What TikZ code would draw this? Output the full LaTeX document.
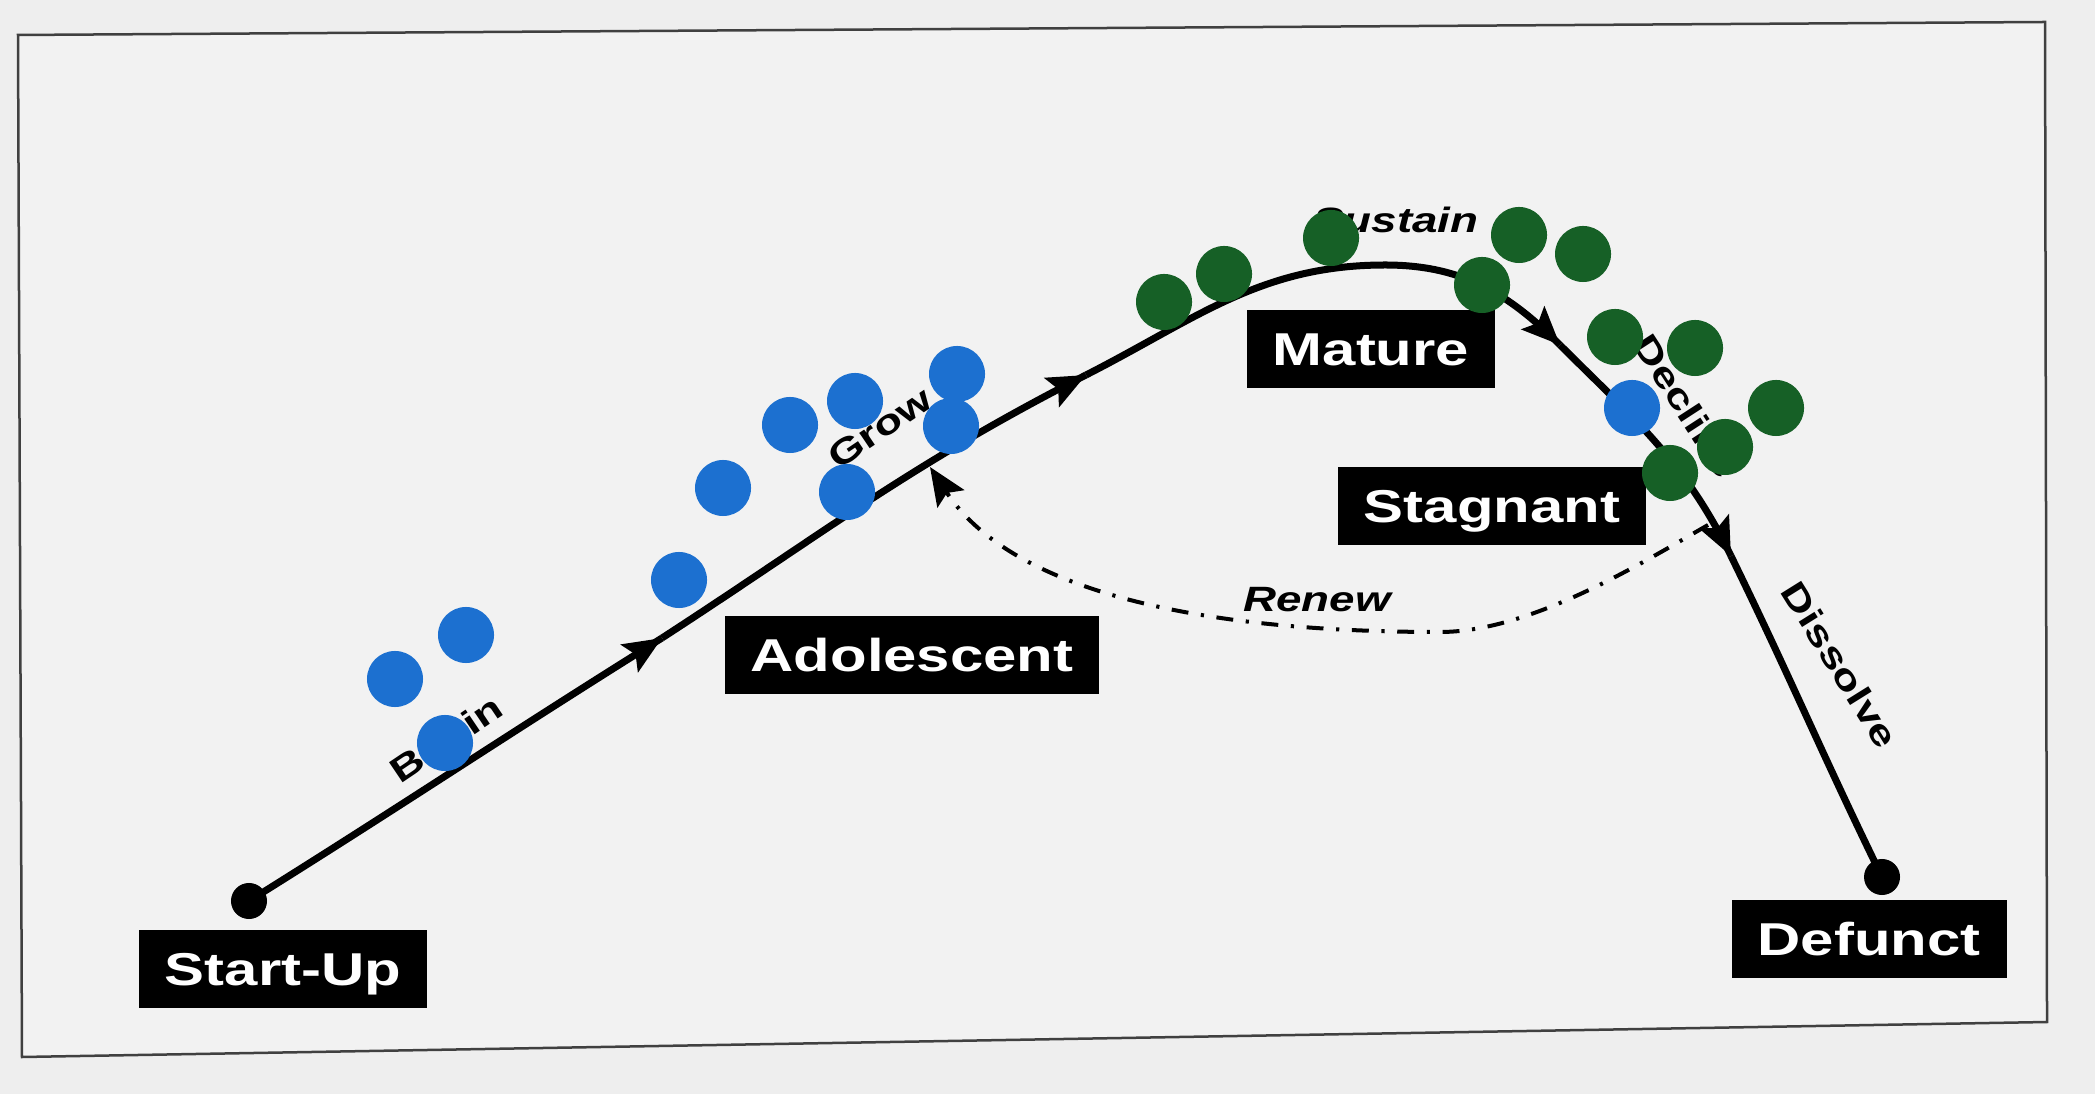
\documentclass[tikz,border=0pt]{standalone}
\usepackage{fontspec}
\newfontfamily\diagfont[FakeStretch=1.3]{Liberation Sans}
\usetikzlibrary{arrows.meta,decorations.markings}

\definecolor{dotblue}{RGB}{28,112,208}
\definecolor{dotgreen}{RGB}{22,96,38}
\definecolor{paper}{RGB}{238,238,238}
\definecolor{sheet}{RGB}{242,242,242}

\begin{document}
\begin{tikzpicture}[x=0.01cm, y=0.01cm,
  stage/.style={fill=black, text=white,
    font=\diagfont\bfseries\fontsize{13.1pt}{15pt}\selectfont,
    inner xsep=0.26cm, minimum height=0.78cm,
    text height=0.33cm, text depth=0cm},
  phase/.style={inner sep=0pt,
    font=\diagfont\bfseries\fontsize{10pt}{12pt}\selectfont},
  phaseit/.style={inner sep=0pt,
    font=\diagfont\bfseries\itshape\fontsize{10pt}{12pt}\selectfont},
  curve/.style={line width=0.07cm, black},
  headtip/.tip={Stealth[length=0.38cm, width=0.32cm, inset=0.07cm]},
  endarrow/.style={postaction={decorate, decoration={markings,
    mark=at position 0.9999 with {\arrow{headtip}}}}},
  renew/.style={line width=0.04cm, black,
    dash pattern=on 4.8pt off 3.6pt on 0.9pt off 3.6pt, -headtip},
  enddot/.style={circle, fill=black, minimum size=0.36cm, inner sep=0pt},
  bdot/.style={circle, fill=dotblue, minimum size=0.56cm, inner sep=0pt},
  gdot/.style={circle, fill=dotgreen, minimum size=0.56cm, inner sep=0pt}]

% paper and framed sheet
\fill[paper] (0,0) rectangle (2095,1094);
\useasboundingbox (0,0) rectangle (2095,1094);
\filldraw[fill=sheet, draw=black!75, line width=0.025cm]
  (18,1059) -- (2045,1072) -- (2047,72) -- (22,37) -- cycle;

% points along the life-cycle curve
\coordinate (S)  at (249,193);
\coordinate (A1) at (662,456);
\coordinate (A2) at (1086,719);
\coordinate (P)  at (1385,829);
\coordinate (A3) at (1560,749);
\coordinate (A4) at (1731,538);
\coordinate (E)  at (1882,217);
% renewal loop: leaves the decline, bottoms out, returns to growth
\coordinate (R0) at (1708,569);
\coordinate (RB) at (1440,462);
\coordinate (R1) at (930,627);

\draw[renew] (R0) .. controls (1640,530) and (1530,462) .. (RB)
             .. controls (1150,462) and (1000,520) .. (R1);

% main life-cycle curve with direction arrows
\draw[curve, endarrow] (S)  to[out=32, in=212] (A1);
\draw[curve, endarrow] (A1) to[out=33, in=207] (A2);
\draw[curve]           (A2) to[out=27, in=180] (P);
\draw[curve, endarrow] (P)  to[out=0, in=135] (A3);
\draw[curve, endarrow] (A3) to[out=-45, in=116] (A4);
\draw[curve]           (A4) to[out=-64, in=116] (E);

\node[enddot] (startdot) at (S) {};
\node[enddot] (enddot) at (E) {};

% stage labels
\node[stage] (startup) at (283,125) {Start-Up};
\node[stage] (adol)    at (912,439) {Adolescent};
\node[stage] (mature)  at (1371,745) {Mature};
\node[stage] (stag)    at (1492,588) {Stagnant};
\node[stage] (defunct) at (1869,155) {Defunct};

% phase labels
\node[phase, rotate=34]  (begin)    at (448,352)  {Begin};
\node[phase, rotate=34]  (grow)     at (880,666)  {Grow};
\node[phaseit]           (sustain)  at (1396,874) {Sustain};
\node[phase, rotate=-57] (decline)  at (1686,688) {Decline};
\node[phase, rotate=-58] (dissolve) at (1840,429) {Dissolve};
\node[phaseit]           (renewlbl) at (1317,494) {Renew};

% young organisations
\node[bdot] (b1)  at (395,415) {};
\node[bdot] (b2)  at (466,459) {};
\node[bdot] (b3)  at (445,351) {};
\node[bdot] (b4)  at (679,514) {};
\node[bdot] (b5)  at (723,606) {};
\node[bdot] (b6)  at (790,669) {};
\node[bdot] (b7)  at (855,693) {};
\node[bdot] (b8)  at (847,602) {};
\node[bdot] (b9)  at (957,720) {};
\node[bdot] (b10) at (951,668) {};
\node[bdot] (b11) at (1632,686) {};

% mature organisations
\node[gdot] (g1)  at (1164,792) {};
\node[gdot] (g2)  at (1224,820) {};
\node[gdot] (g3)  at (1331,856) {};
\node[gdot] (g4)  at (1519,859) {};
\node[gdot] (g5)  at (1583,840) {};
\node[gdot] (g6)  at (1482,809) {};
\node[gdot] (g7)  at (1615,757) {};
\node[gdot] (g8)  at (1695,746) {};
\node[gdot] (g9)  at (1776,686) {};
\node[gdot] (g10) at (1725,647) {};
\node[gdot] (g11) at (1670,621) {};
\end{tikzpicture}
\end{document}
